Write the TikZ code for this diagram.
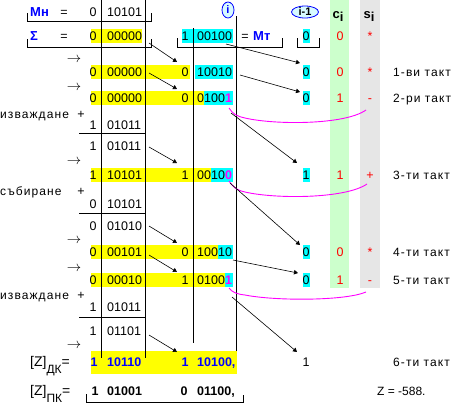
\documentclass[tikz,border=0pt]{standalone}
\usepackage{fontspec}
\setmainfont{Liberation Sans}
\newfontfamily\lsfont[LetterSpace=9]{Liberation Sans}
\usetikzlibrary{arrows.meta,shapes.geometric}
\definecolor{hlY}{RGB}{255,255,0}
\definecolor{hlC}{RGB}{0,255,255}
\definecolor{colG}{RGB}{204,255,204}
\definecolor{colS}{RGB}{230,230,230}
\definecolor{mag}{RGB}{255,0,255}
\definecolor{bl}{RGB}{0,0,255}
\definecolor{rd}{RGB}{255,0,0}
\definecolor{elf}{RGB}{215,250,255}
\newcommand\mg[1]{\textcolor{mag}{\bfseries #1}}
\begin{document}
\begin{tikzpicture}[x=1pt,y=-1pt,
  t/.style={inner sep=0pt,anchor=base,yshift=-4.3pt,font=\fontsize{12.5}{14}\selectfont},
  tw/.style={t,anchor=base west},
  lab/.style={tw,font=\lsfont\fontsize{12}{14}\selectfont},
  arw/.style={t,font=\fontsize{15}{16}\selectfont},
  hb/.style={t,font=\fontsize{13}{15}\selectfont\bfseries,text=bl},
  hbw/.style={hb,anchor=base west},
  rv/.style={t,text=rd},
  fb/.style={tw,font=\fontsize{12.5}{14}\selectfont\bfseries},
  fbc/.style={t,font=\fontsize{12.5}{14}\selectfont\bfseries},
  rl/.style={line width=1pt},
  shar/.style={-{Triangle[length=4pt,width=4.5pt]},line width=0.6pt},
  arcm/.style={draw=mag,line width=0.9pt},
  elab/.style={ellipse,draw=bl,fill=elf,inner sep=0pt,line width=0.8pt,font=\fontsize{11}{12}\selectfont\bfseries}
]
\useasboundingbox (0,0) rectangle (454,408);
% column backgrounds
\fill[colG] (330,0) rectangle (349,288);
\fill[colS] (360,0) rectangle (380,288);
% highlights
\fill[hlY] (91,29) rectangle (142,43);
\fill[hlC] (182,29) rectangle (233,43);
\fill[hlC] (303,29) rectangle (310,43);
\fill[hlY] (91,65) rectangle (190,79);
\fill[hlC] (195,65) rectangle (233,79);
\fill[hlC] (303,65) rectangle (310,79);
\fill[hlY] (91,91) rectangle (204,105);
\fill[hlC] (204,91) rectangle (233,105);
\fill[hlC] (303,91) rectangle (310,105);
\fill[hlY] (91,168) rectangle (211,182);
\fill[hlC] (211,168) rectangle (233,182);
\fill[hlC] (303,168) rectangle (310,182);
\fill[hlY] (91,245) rectangle (218,259);
\fill[hlC] (218,245) rectangle (233,259);
\fill[hlC] (303,245) rectangle (310,259);
\fill[hlY] (91,273) rectangle (225,287);
\fill[hlC] (225,273) rectangle (233,287);
\fill[hlC] (303,273) rectangle (310,287);
\fill[hlY] (91,351) rectangle (237,374);
% rules
\draw[rl] (101,0) -- (101,358);
\draw[rl] (145,0) -- (145,358);
\draw[rl] (193,28) -- (193,343);
\draw[rl] (236,16) -- (236,351);
\draw[rl] (27,13) -- (27,21) -- (151,21) -- (151,13);
\draw[rl] (27,39) -- (27,47) -- (151,47) -- (151,39);
\draw[rl] (177,38) -- (177,47) -- (282,47) -- (282,38);
\draw[rl] (297,38) -- (297,47) -- (319,47) -- (319,38);
\draw[rl] (86,394) -- (86,402) -- (243,402) -- (243,395);
\draw[rl] (79,133) -- (145,133);
\draw[rl] (79,213) -- (145,213);
\draw[rl] (79,317) -- (145,317);
% magenta arcs
\draw[arcm] (229,108) .. controls (233,114) and (236,116) .. (245,118) .. controls (275,125) and (345,125) .. (366,110);
\draw[arcm] (229,181) .. controls (233,187) and (236,190) .. (245,192) .. controls (275,199) and (345,199) .. (367,184);
\draw[arcm] (229,288) .. controls (232,292) and (236,294) .. (245,295) .. controls (275,301) and (345,301) .. (366,292);
% header
\node[hbw] (mn) at (30,12) {Мн};
\node[t] (eq1) at (64,12) {=};
\node[t] (m0) at (93,12) {0};
\node[tw] (m1) at (107,12) {10101};
\node[elab,text=bl,minimum width=12pt,minimum height=16pt] (ei) at (228,10) {i};
\node[elab,minimum width=27pt,minimum height=12pt] (eim) at (305,12) {i-1};
\node[t,font=\fontsize{13}{15}\selectfont\bfseries] (ch) at (338,14) {c\raisebox{-3pt}{i}};
\node[t,font=\fontsize{13}{15}\selectfont\bfseries] (sh) at (369,14) {s\raisebox{-3pt}{i}};
% sigma row
\node[hbw] (sg) at (30,36) {Σ};
\node[t] (eq2) at (64,36) {=};
\node[t] (s0) at (93,36) {0};
\node[tw] (s1) at (107,36) {00000};
\node[t] (s2) at (185,36) {1};
\node[tw] (s3) at (197,36) {00100};
\node[t] (eq3) at (245,36) {=};
\node[hbw] (mt) at (253,36) {Мт};
\node[t] (s4) at (306,36) {0};
\node[rv] (s5) at (340,36) {0};
\node[rv] (s6) at (370,36) {*};
% row 1
\node[arw] (ar1) at (74,58) {$\rightarrow$};
\node[t] (a0) at (93,72) {0};
\node[tw] (a1) at (107,72) {00000};
\node[t] (a2) at (185,72) {0};
\node[tw] (a3) at (197,72) {10010};
\node[t] (a4) at (306,72) {0};
\node[rv] (a5) at (340,72) {0};
\node[rv] (a6) at (370,72) {*};
\node[lab] (a7) at (393,72) {1-ви такт};
% row 2
\node[arw] (ar2) at (74,86) {$\rightarrow$};
\node[t] (b0) at (93,98) {0};
\node[tw] (b1) at (107,98) {00000};
\node[t] (b2) at (185,98) {0};
\node[tw] (b3) at (197,98) {0100\mg{1}};
\node[t] (b4) at (306,98) {0};
\node[rv] (b5) at (340,98) {1};
\node[rv] (b6) at (370,98) {-};
\node[lab] (b7) at (393,98) {2-ри такт};
% subtraction 1
\node[lab] (op1) at (0,114) {изваждане};
\node[t] (pl1) at (81,114) {+};
\node[t] (c0) at (93,125) {1};
\node[tw] (c1) at (107,125) {01011};
\node[t] (d0) at (93,146) {1};
\node[tw] (d1) at (107,146) {01011};
% row 3
\node[arw] (ar3) at (74,160) {$\rightarrow$};
\node[t] (e0) at (93,175) {1};
\node[tw] (e1) at (107,175) {10101};
\node[t] (e2) at (185,175) {1};
\node[tw] (e3) at (197,175) {0010\mg{0}};
\node[t] (e4) at (306,175) {1};
\node[rv] (e5) at (340,175) {1};
\node[rv] (e6) at (370,175) {+};
\node[lab] (e7) at (393,175) {3-ти такт};
% addition
\node[lab] (op2) at (0,191) {събиране};
\node[t] (pl2) at (81,191) {+};
\node[t] (f0) at (93,204) {0};
\node[tw] (f1) at (107,204) {10101};
\node[t] (g0) at (93,226) {0};
\node[tw] (g1) at (107,226) {01010};
% row 4
\node[arw] (ar4) at (74,239) {$\rightarrow$};
\node[t] (h0) at (93,252) {0};
\node[tw] (h1) at (107,252) {00101};
\node[t] (h2) at (185,252) {0};
\node[tw] (h3) at (197,252) {10010};
\node[t] (h4) at (306,252) {0};
\node[rv] (h5) at (340,252) {0};
\node[rv] (h6) at (370,252) {*};
\node[lab] (h7) at (393,252) {4-ти такт};
% row 5
\node[arw] (ar5) at (74,267) {$\rightarrow$};
\node[t] (k0) at (93,280) {0};
\node[tw] (k1) at (107,280) {00010};
\node[t] (k2) at (185,280) {1};
\node[tw] (k3) at (197,280) {0100\mg{1}};
\node[t] (k4) at (306,280) {0};
\node[rv] (k5) at (340,280) {1};
\node[rv] (k6) at (370,280) {-};
\node[lab] (k7) at (393,280) {5-ти такт};
% subtraction 2
\node[lab] (op3) at (0,295) {изваждане};
\node[t] (pl3) at (81,295) {+};
\node[t] (l0) at (93,307) {1};
\node[tw] (l1) at (107,307) {01011};
\node[t] (n0) at (93,331) {1};
\node[tw] (n1) at (107,331) {01101};
% final rows
\node[arw] (ar6) at (74,344) {$\rightarrow$};
\node[tw,font=\fontsize{14}{16}\selectfont] (zd) at (30,362) {[Z]\raisebox{-7pt}{\fontsize{12}{14}\selectfont ДК}=};
\node[fbc,text=bl] (p0) at (94,362) {1};
\node[fb,text=bl] (p1) at (107,362) {10110};
\node[fbc,text=bl] (p2) at (185,362) {1};
\node[fb,text=bl] (p3) at (197,362) {10100,};
\node[t] (p4) at (306,362) {1};
\node[lab] (p7) at (393,362) {6-ти такт};
\node[tw,font=\fontsize{14}{16}\selectfont] (zp) at (30,391) {[Z]\raisebox{-7pt}{\fontsize{12}{14}\selectfont ПК}=};
\node[fbc] (q0) at (95,391) {1};
\node[fb] (q1) at (107,391) {01001};
\node[fbc] (q2) at (184,391) {0};
\node[fb] (q3) at (197,391) {01100,};
\node[tw,font=\fontsize{12}{14}\selectfont] (zz) at (377,391) {Z = -588.};
% shift arrows A -> B
\coordinate (sa1) at (149,43); \coordinate (ta1) at (177,62);
\coordinate (sa2) at (149,73); \coordinate (ta2) at (177,89);
\coordinate (sa3) at (149,147); \coordinate (ta3) at (177,163);
\coordinate (sa4) at (149,226); \coordinate (ta4) at (177,243);
\coordinate (sa5) at (149,255); \coordinate (ta5) at (177,272);
\coordinate (sa6) at (149,335); \coordinate (ta6) at (177,352);
\foreach \i in {1,...,6} \draw[shar] (sa\i) -- (ta\i);
% shift arrows B -> i-1
\coordinate (sb1) at (226,44); \coordinate (tb1) at (300,63);
\coordinate (sb2) at (240,75); \coordinate (tb2) at (300,92);
\coordinate (sb3) at (231,113); \coordinate (tb3) at (297,163);
\coordinate (sb4) at (230,183); \coordinate (tb4) at (300,245);
\coordinate (sb5) at (233,260); \coordinate (tb5) at (298,273);
\coordinate (sb6) at (232,297); \coordinate (tb6) at (297,352);
\foreach \i in {1,...,6} \draw[shar] (sb\i) -- (tb\i);
\end{tikzpicture}
\end{document}
